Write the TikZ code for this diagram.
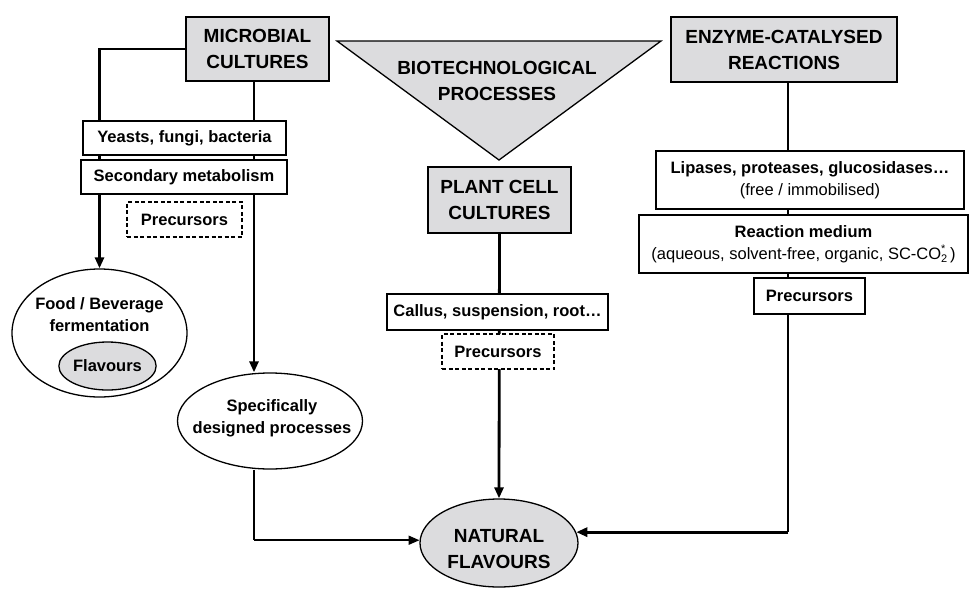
\documentclass[tikz,border=0pt]{standalone}
\usepackage{fontspec}
\setmainfont{Liberation Sans}
\usetikzlibrary{shapes.geometric,arrows.meta,backgrounds}
\definecolor{boxgray}{RGB}{220,220,222}
\tikzset{
  big/.style={font=\fontsize{19}{26}\selectfont\bfseries, align=center},
  small/.style={font=\fontsize{16.5}{22}\selectfont\bfseries, align=center},
  graybox/.style={big, draw, line width=1.3pt, fill=boxgray, inner sep=0pt},
  whitebox/.style={small, draw, line width=1.3pt, fill=white, inner sep=0pt},
  dashbox/.style={small, draw, line width=1.3pt, fill=white, inner sep=0pt, dash pattern=on 4pt off 2.5pt},
  oval/.style={ellipse, draw, line width=1.3pt, inner sep=0pt},
  thickline/.style={line width=2.8pt},
  thinline/.style={line width=1.2pt},
  midline/.style={line width=1.8pt},
  tip/.style={-{Triangle[length=11pt,width=9pt]}}
}
\begin{document}
\begin{tikzpicture}[x=1pt,y=-1pt]
\useasboundingbox (0,0) rectangle (970,590);

% triangle
\draw[line width=1.3pt, fill=boxgray] (337,41) -- (661,41) -- (499,160) -- cycle;
\node[big] (bio) at (497,81) {BIOTECHNOLOGICAL\\PROCESSES};

% gray boxes
\node[graybox, minimum width=143pt, minimum height=64pt] (mc) at (257.5,49) {MICROBIAL\\CULTURES};
\node[graybox, minimum width=143pt, minimum height=66pt] (plant) at (499.5,200) {PLANT CELL\\CULTURES};
\node[graybox, minimum width=226pt, minimum height=65pt] (enz) at (784,49.5) {ENZYME-CATALYSED\\REACTIONS};

% left column
\node[whitebox, minimum width=203pt, minimum height=34pt] (yeast) at (184.5,138) {Yeasts, fungi, bacteria};
\node[whitebox, minimum width=206pt, minimum height=34pt] (sec) at (184,177) {Secondary metabolism};
\node[dashbox, minimum width=115pt, minimum height=35pt] (pre1) at (184.5,219.5) {Precursors};
\node[oval, minimum width=175pt, minimum height=128pt, fill=white] (food) at (99.5,333) {};
\node[small] (foodtxt) at (99.5,315) {Food / Beverage\\fermentation};
\node[oval, small, fill=boxgray, minimum width=93pt, minimum height=48pt] (flav) at (107.5,366) {Flavours};
\node[oval, fill=white, minimum width=185pt, minimum height=96pt] (spec) at (270,421) {};
\node[small] (spectxt) at (272,418) {Specifically\\designed processes};

% middle column
\node[whitebox, minimum width=221pt, minimum height=36pt] (callus) at (497.5,312) {Callus, suspension, root\ldots};
\node[dashbox, minimum width=112pt, minimum height=35pt] (pre2) at (498,351.5) {Precursors};
\node[oval, fill=boxgray, minimum width=158pt, minimum height=88pt] (nat) at (499,543) {};
\node[big] (nattxt) at (499,549) {NATURAL\\FLAVOURS};

% right column
\node[whitebox, minimum width=308pt, minimum height=58pt] (lip) at (810,180)
  {Lipases, proteases, glucosidases\ldots\\{\mdseries (free / immobilised)}};
\node[whitebox, minimum width=329pt, minimum height=58pt] (rm) at (803.5,244)
  {Reaction medium\\{\mdseries (aqueous, solvent-free, organic, SC-CO\makebox[0pt][l]{\raisebox{0.75ex}{\fontsize{11}{11}\selectfont *}}\raisebox{-0.45ex}{\fontsize{11}{11}\selectfont 2}\,)}};
\node[whitebox, minimum width=111pt, minimum height=36pt] (pre3) at (809.5,296) {Precursors};

\coordinate (xr) at (254,0);
\coordinate (xe) at (788,0);

\begin{scope}[on background layer]
  % microbial left branch
  \draw[thickline, tip] (mc.west) -| (food.north);
  % microbial right branch
  \draw[thickline, tip] (mc.south -| xr) -- (xr |- spec.north);
  \draw[midline] (xr |- spec.south) -- (xr |- nat.178);
  \draw[midline, tip] (xr |- nat.178) -- (nat.178);
  % plant branch
  \draw[thickline, tip] (plant.south) -- (nat.north);
  % enzyme branch
  \draw[thinline] (enz.south -| xe) -- (xe |- nat.8);
  \draw[thickline, tip] (xe |- nat.8) -- (nat.8);
\end{scope}
\end{tikzpicture}
\end{document}
